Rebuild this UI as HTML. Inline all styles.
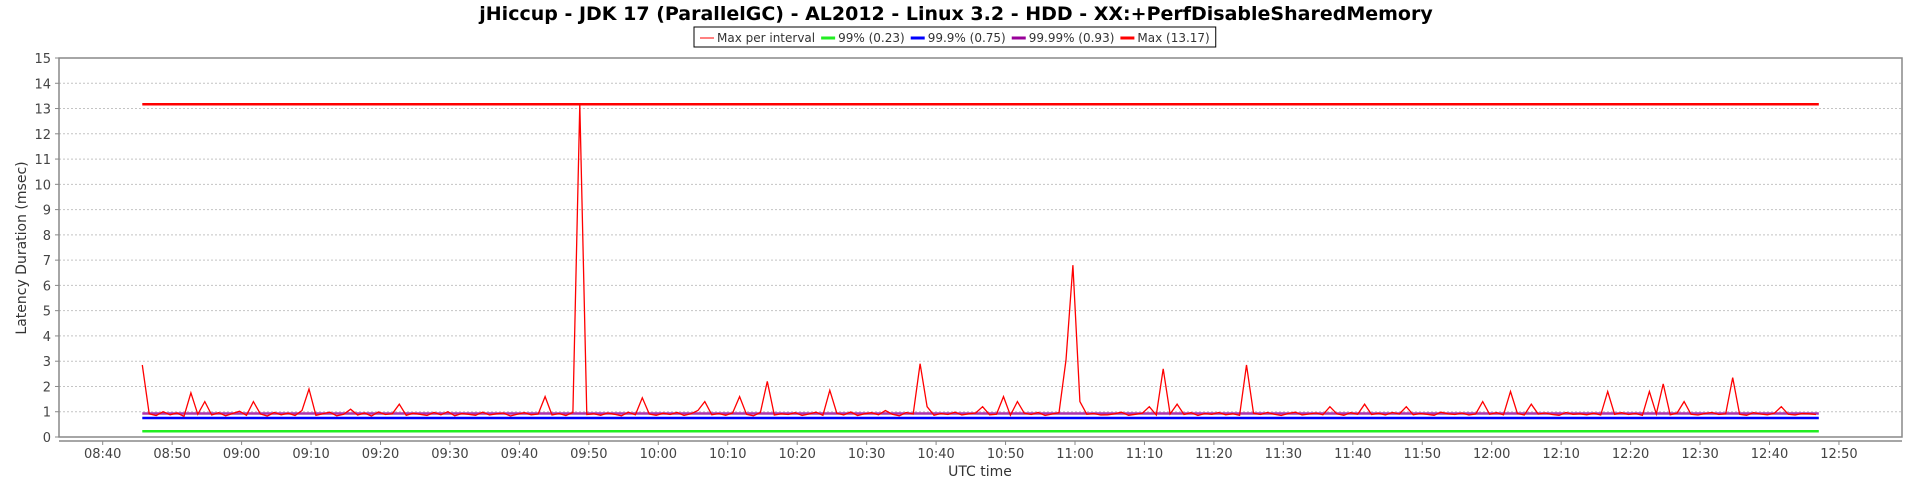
<!DOCTYPE html>
<html><head><meta charset="utf-8"><style>
html,body{margin:0;padding:0;background:#fff;}
svg{display:block;font-family:"DejaVu Sans","Liberation Sans",sans-serif;}
</style></head><body>
<svg id="chart" width="1913" height="486" xmlns="http://www.w3.org/2000/svg">
<rect x="0" y="0" width="1913" height="486" fill="#fff"/>
<text x="956" y="20" text-anchor="middle" font-size="19" font-weight="bold" fill="#000">jHiccup - JDK 17 (ParallelGC) - AL2012 - Linux 3.2 - HDD - XX:+PerfDisableSharedMemory</text>
<g id="legend"></g>
<g id="grid"></g>
<rect x="59" y="58" width="1843" height="379" fill="none" stroke="#888" stroke-width="1.5"/>
<g id="series"></g>
<g id="axes"></g>
<text x="980" y="476" text-anchor="middle" font-size="14" fill="#333">UTC time</text>
<text transform="translate(26,248) rotate(-90)" text-anchor="middle" font-size="14" fill="#333">Latency Duration (msec)</text>
</svg>
<script>
const maxPerInterval = [
2.85,0.92,0.85,1.0,0.88,0.95,0.82,1.75,0.9,1.4,0.87,0.96,0.84,0.93,1.02,0.86,1.4,0.91,0.83,0.97,
0.88,0.94,0.85,1.05,1.9,0.86,0.92,0.98,0.84,0.9,1.1,0.87,0.95,0.83,0.99,0.89,0.92,1.3,0.86,0.94,
0.9,0.85,0.97,0.88,1.0,0.84,0.93,0.9,0.86,0.98,0.87,0.92,0.95,0.83,0.9,0.96,0.88,0.91,1.6,0.87,
0.93,0.85,0.97,13.17,0.89,0.92,0.86,0.95,0.9,0.84,0.98,0.88,1.55,0.91,0.86,0.94,0.89,0.97,0.85,0.92,
1.05,1.4,0.88,0.93,0.86,0.95,1.6,0.9,0.84,0.97,2.2,0.87,0.92,0.89,0.96,0.85,0.91,0.98,0.86,1.85,
0.94,0.87,0.99,0.85,0.92,0.96,0.88,1.05,0.9,0.84,0.97,0.91,2.9,1.2,0.86,0.93,0.89,0.98,0.87,
0.92,0.95,1.2,0.88,0.9,1.6,0.86,1.4,0.94,0.89,0.97,0.85,0.91,0.96,3.05,6.8,1.4,0.9,0.93,0.87,
0.88,0.92,0.98,0.86,0.9,0.94,1.2,0.87,2.7,0.91,1.3,0.89,0.96,0.85,0.93,0.9,0.97,0.88,0.92,
0.86,2.85,0.94,0.89,0.97,0.9,0.85,0.93,0.98,0.87,0.91,0.95,0.88,1.2,0.92,0.86,0.96,0.9,1.3,0.89,
0.94,0.87,0.97,0.91,1.2,0.88,0.93,0.9,0.86,0.98,0.92,0.89,0.95,0.87,0.91,1.4,0.9,0.96,0.88,1.8,
0.93,0.87,1.3,0.91,0.95,0.89,0.86,0.97,0.9,0.92,0.88,0.94,0.87,1.8,0.9,0.96,0.89,0.93,0.86,1.8,
0.91,2.1,0.88,0.95,1.4,0.9,0.87,0.93,0.97,0.89,0.92,2.35,0.9,0.86,0.96,0.91,0.88,0.94,1.2,0.9,
0.87,0.93,0.92,0.89];
const startMinute = 5.7;      // minutes after 08:40
const stepMinutes = 1.0;
const endMinute = 247.1;
const percentileNames = ["99%","99.9%","99.99%","Max"];
const percentileValues = [0.23,0.75,0.93,13.17];
const percentileColors = ["#22ee22","#0000ff","#990099","#ff0000"];
const xTickLabels = ["08:40","08:50","09:00","09:10","09:20","09:30","09:40","09:50","10:00","10:10","10:20","10:30","10:40","10:50","11:00","11:10","11:20","11:30","11:40","11:50","12:00","12:10","12:20","12:30","12:40","12:50"];
const yTicks = [0,1,2,3,4,5,6,7,8,9,10,11,12,13,14,15];

const NS="http://www.w3.org/2000/svg";
const X0=59,X1=1902,Y0=437,Y1=58;
function xs(m){return 102.7+m*6.945;}
function ys(v){return Y0-(v/15)*(Y0-Y1);}
function mk(tag,attrs,parent){const e=document.createElementNS(NS,tag);for(const k in attrs)e.setAttribute(k,attrs[k]);parent.appendChild(e);return e;}
const grid=document.getElementById('grid'),axes=document.getElementById('axes'),series=document.getElementById('series'),legend=document.getElementById('legend');

yTicks.forEach(v=>{
  const y=ys(v);
  if(v>0&&v<15){const g=mk('line',{x1:X0,x2:X1,y1:y,y2:y,stroke:'#c4c4c4','stroke-dasharray':'2,2','stroke-width':1},grid);
  
  }
  mk('line',{x1:X0-4,x2:X0,y1:y,y2:y,stroke:'#888'},axes);
  const t=mk('text',{x:X0-8,y:y+5,'text-anchor':'end','font-size':13,fill:'#444'},axes);
  t.textContent=v;
  
  
});
mk('line',{x1:X0,x2:X1,y1:441,y2:441,stroke:'#888','stroke-width':1.5},axes);
xTickLabels.forEach((lab,i)=>{
  const x=xs(i*10);
  mk('line',{x1:x,x2:x,y1:441,y2:445,stroke:'#888'},axes);
  const t=mk('text',{x:x,y:458,'text-anchor':'middle','font-size':13,fill:'#444'},axes);
  t.textContent=lab;
  
  
});

percentileValues.forEach((v,i)=>{
  const l=mk('line',{x1:xs(startMinute),x2:xs(endMinute),y1:ys(v),y2:ys(v),stroke:percentileColors[i],'stroke-width':2.5,'stroke-opacity':i==2?0.8:1},series);
  
  
});
let d='';
maxPerInterval.forEach((v,i)=>{d+=(i?'L':'M')+xs(startMinute+i*stepMinutes).toFixed(1)+','+ys(v).toFixed(1);});
const p=mk('path',{d:d,fill:'none',stroke:'#ff0000','stroke-width':1.3},series);



// legend
const items=[["Max per interval","#ff0000",1]].concat(percentileNames.map((n,i)=>[n+" ("+percentileValues[i]+")",percentileColors[i],3]));
let lx=700;const ly=42;
items.forEach((it,i)=>{
  mk('line',{x1:lx,x2:lx+14,y1:ly-4,y2:ly-4,stroke:it[1],'stroke-width':it[2]},legend);
  const t=mk('text',{x:lx+17,y:ly,'font-size':12,fill:'#333'},legend);
  t.textContent=it[0];
  
  
  lx+=17+t.getComputedTextLength()+6;
});
const box=mk('rect',{x:694,y:27,width:lx-694,height:20,fill:'none',stroke:'#000','stroke-width':1},legend);


</script>
</body></html>
